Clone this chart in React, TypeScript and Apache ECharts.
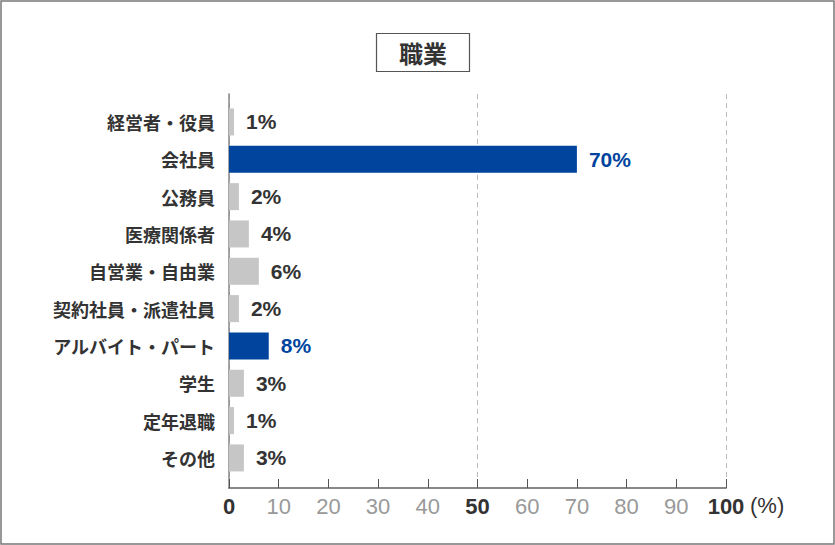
import React, { useEffect, useRef } from "react";
import * as echarts from "echarts";

const categories = [
  "経営者・役員",
  "会社員",
  "公務員",
  "医療関係者",
  "自営業・自由業",
  "契約社員・派遣社員",
  "アルバイト・パート",
  "学生",
  "定年退職",
  "その他",
];
const values = [1, 70, 2, 4, 6, 2, 8, 3, 1, 3];
const highlighted = ["会社員", "アルバイト・パート"];
const boldTicks = [0, 50, 100];
const titleText = "職業";
const unitText = "(%)";

const BLUE = "#00449e";
const GRAY = "#c6c6c6";
const TEXT = "#333333";
const FONT = "'Noto Sans CJK JP', 'Liberation Sans', sans-serif";
const LATIN = "'Liberation Sans', sans-serif";

export default function App() {
  const ref = useRef<HTMLDivElement>(null);
  useEffect(() => {
    document.body.style.margin = "0";
    const chart = echarts.init(ref.current!, null, { renderer: "svg" });
    const left = 229;
    const right = 835 - 726;
    const option: any = {
      animation: false,
      backgroundColor: "#fff",
      textStyle: { fontFamily: FONT },
      title: {
        text: titleText,
        left: 376,
        top: 33,
        padding: [6, 23, 6, 23],
        borderColor: "#555",
        borderWidth: 1.2,
        textStyle: { fontSize: 24, fontWeight: "bold", color: TEXT, fontFamily: FONT, lineHeight: 27 },
      },
      graphic: [
        {
          type: "rect",
          shape: { x: 1, y: 1, width: 833, height: 543 },
          style: { fill: "none", stroke: "#777", lineWidth: 1.5 },
          silent: true,
        },
        {
          type: "text",
          x: 750,
          y: 505,
          style: {
            text: unitText,
            fontSize: 22,
            fill: TEXT,
            fontFamily: LATIN,
            verticalAlign: "middle",
            align: "left",
          },
          silent: true,
        },
      ],
      grid: [
        { left, right, top: 94, bottom: 57 },
        { left, right, top: 103.3, height: 373.3 },
      ],
      xAxis: [
        {
          gridIndex: 0,
          type: "value",
          min: 0,
          max: 100,
          interval: 10,
          axisLine: { show: true, lineStyle: { color: "#888", width: 2 } },
          axisTick: { show: true, inside: true, length: 9, lineStyle: { color: "#555", width: 1 } },
          splitLine: {
            show: true,
            lineStyle: {
              color: ["#bbbbbb", "transparent", "transparent", "transparent", "transparent"],
              type: [5, 4],
              width: 1,
            },
          },
          axisLabel: {
            margin: 7,
            fontFamily: LATIN,
            formatter: (v: number) => (boldTicks.includes(v) ? `{b|${v}}` : `{g|${v}}`),
            rich: {
              b: { fontSize: 22, fontWeight: "bold", color: TEXT, fontFamily: LATIN },
              g: { fontSize: 22, color: "#999", fontFamily: LATIN },
            },
          },
        },
        {
          gridIndex: 1,
          type: "value",
          min: 0,
          max: 100,
          show: false,
        },
      ],
      yAxis: [
        {
          gridIndex: 0,
          type: "category",
          data: [""],
          axisLine: { show: true, lineStyle: { color: "#888", width: 1.5 } },
          axisTick: { show: false },
          axisLabel: { show: false },
        },
        {
          gridIndex: 1,
          type: "category",
          inverse: true,
          data: categories,
          axisLine: { show: false },
          axisTick: { show: false },
          axisLabel: {
            margin: 14,
            fontSize: 18,
            fontWeight: "bold",
            color: TEXT,
            fontFamily: FONT,
          },
        },
      ],
      series: [
        {
          type: "bar",
          xAxisIndex: 1,
          yAxisIndex: 1,
          barWidth: 27,
          data: values.map((v, i) => {
            const hi = highlighted.includes(categories[i]);
            return {
              value: v,
              itemStyle: { color: hi ? BLUE : GRAY },
              label: { color: hi ? BLUE : TEXT },
            };
          }),
          label: {
            show: true,
            position: "right",
            distance: 12,
            formatter: "{c}%",
            fontSize: 21,
            fontWeight: "bold",
            fontFamily: LATIN,
          },
        },
      ],
    };
    chart.setOption(option);
    return () => chart.dispose();
  }, []);
  return <div ref={ref} style={{ width: 835, height: 545 }} />;
}
